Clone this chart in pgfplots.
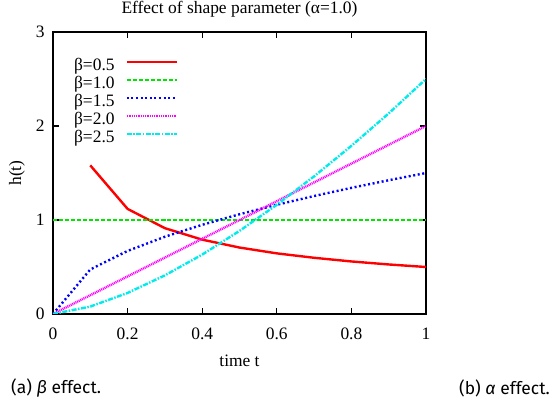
\documentclass[border=0pt]{standalone}
\usepackage{fontspec}
\setmainfont{Liberation Serif}
\newfontfamily\capfont{Fira Sans}
\usepackage{pgfplots}
\pgfplotsset{compat=1.18}

\definecolor{gred}{RGB}{255,0,0}
\definecolor{ggreen}{RGB}{0,230,0}
\definecolor{gblue}{RGB}{0,0,255}
\definecolor{gmag}{RGB}{255,0,255}
\definecolor{gcyan}{RGB}{0,235,235}

\begin{document}
\begin{tikzpicture}
\useasboundingbox (0,0) rectangle (551bp,403bp);
\begin{axis}[
    at={(53bp,89bp)}, anchor=south west,
    scale only axis,
    width=373bp, height=282bp,
    xmin=0, xmax=1, ymin=0, ymax=3,
    xtick={0,0.2,0.4,0.6,0.8,1},
    ytick={0,1,2,3},
    xticklabels={0,0.2,0.4,0.6,0.8,1},
    tick align=inside,
    major tick length=6bp,
    axis line style={line width=1.5bp},
    every tick/.style={black, line width=1.1bp},
    font=\fontsize{17.5}{21}\selectfont,
    tick label style={font=\fontsize{17.5}{21}\selectfont},
    /pgf/number format/assume math mode=true,
    xticklabel style={yshift=-10bp},
    yticklabel style={xshift=-5bp},
    title={Effect of shape parameter (α=1.0)},
    title style={at={(0.5,1)}, anchor=center, yshift=17bp},
    xlabel={time t},
    xlabel style={at={(axis description cs:0.5,-0.166)}, anchor=center},
    ylabel={h(t)},
    ylabel style={at={(axis description cs:-0.097,0.5)}, anchor=center},
    legend plot pos=right,
    legend image code/.code={\draw[#1] (0bp,5.5bp) -- (50bp,5.5bp);},
    legend cell align=right,
    legend style={draw=none, fill=none, at={(axis description cs:0.056,0.907)},
        anchor=north west, inner sep=0pt, row sep=0pt, column sep=11bp,
        nodes={inner sep=0pt, text height=12bp, text depth=6bp},
        font=\fontsize{17.5}{21}\selectfont},
]
\addplot[gred, line width=2.4bp] coordinates {
    (0.1,1.581) (0.2,1.118) (0.3,0.913) (0.4,0.791) (0.5,0.707)
    (0.6,0.645) (0.7,0.598) (0.8,0.559) (0.9,0.527) (1.0,0.500)
};
\addlegendentry{β=0.5}
\addplot[ggreen, line width=2.4bp, dash pattern=on 4bp off 2bp] coordinates {
    (0,1) (0.1,1) (0.2,1) (0.3,1) (0.4,1) (0.5,1)
    (0.6,1) (0.7,1) (0.8,1) (0.9,1) (1.0,1)
};
\addlegendentry{β=1.0}
\addplot[gblue, line width=2.4bp, dash pattern=on 2bp off 2.6bp] coordinates {
    (0,0) (0.1,0.474) (0.2,0.671) (0.3,0.822) (0.4,0.949) (0.5,1.061)
    (0.6,1.162) (0.7,1.255) (0.8,1.342) (0.9,1.423) (1.0,1.500)
};
\addlegendentry{β=1.5}
\addplot[gmag, line width=2.4bp, dash pattern=on 1bp off 0.8bp] coordinates {
    (0,0) (0.1,0.2) (0.2,0.4) (0.3,0.6) (0.4,0.8) (0.5,1.0)
    (0.6,1.2) (0.7,1.4) (0.8,1.6) (0.9,1.8) (1.0,2.0)
};
\addlegendentry{β=2.0}
\addplot[gcyan, line width=2.4bp, dash pattern=on 5bp off 1.5bp on 1.5bp off 1.5bp] coordinates {
    (0,0) (0.1,0.079) (0.2,0.224) (0.3,0.411) (0.4,0.632) (0.5,0.884)
    (0.6,1.162) (0.7,1.464) (0.8,1.789) (0.9,2.134) (1.0,2.500)
};
\addlegendentry{β=2.5}
\end{axis}
\node[anchor=west, inner sep=0pt, font=\capfont\fontsize{17.5}{21}\selectfont] at (11bp,14.5bp) {(a) \textit{β} effect.};
\node[anchor=east, inner sep=0pt, font=\capfont\fontsize{17.5}{21}\selectfont] at (550bp,14.5bp) {(b) \textit{α} effect.};
\end{tikzpicture}
\end{document}
